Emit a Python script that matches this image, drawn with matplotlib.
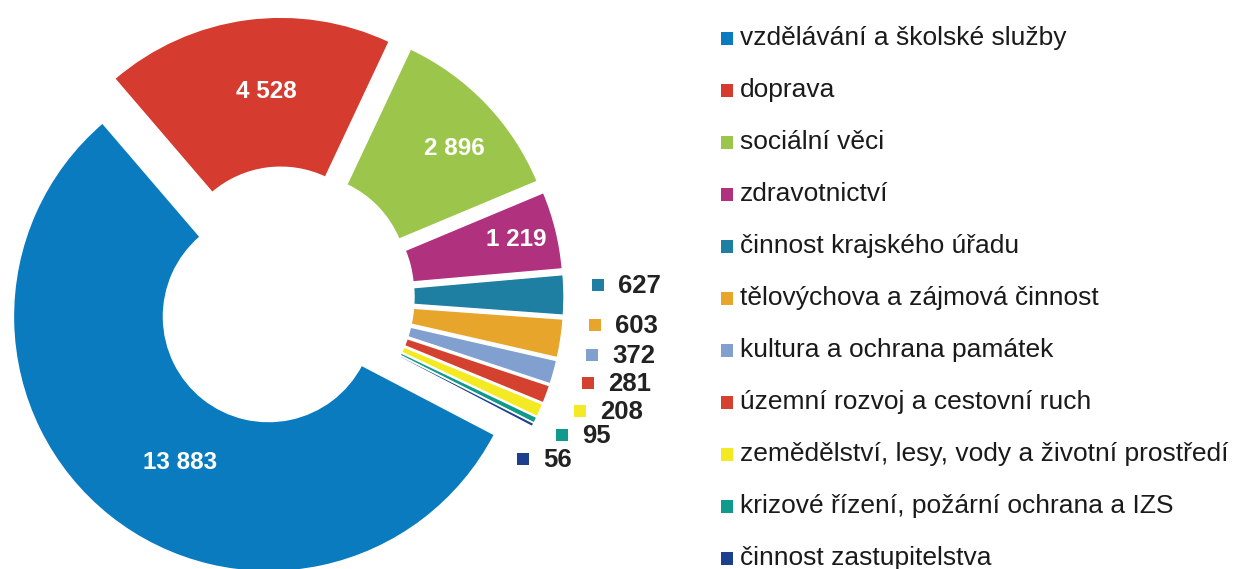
import numpy as np
import matplotlib.pyplot as plt
from matplotlib.patches import Rectangle

plt.rcParams['font.family'] = ['Liberation Sans', 'DejaVu Sans']

# data
categories = ['vzdělávání a školské služby', 'doprava', 'sociální věci',
              'zdravotnictví', 'činnost krajského úřadu',
              'tělovýchova a zájmová činnost', 'kultura a ochrana památek',
              'územní rozvoj a cestovní ruch',
              'zemědělství, lesy, vody a životní prostředí',
              'krizové řízení, požární ochrana a IZS', 'činnost zastupitelstva']
values = [13883, 4528, 2896, 1219, 627, 603, 372, 281, 208, 95, 56]
colors = ['#0b7bc0', '#d63b2f', '#9cc64b', '#b0327f', '#1f7fa2', '#e8a52b',
          '#819fcf', '#d4412f', '#f4ea24', '#0f9a8e', '#1c408e']

W, H = 1237, 569
fig = plt.figure(figsize=(W / 100, H / 100), dpi=100)
ax = fig.add_axes([0, 0, 1, 1])

# donut geometry in pixels
cx, cy = 284, H - 297
R = 255
ring = 150
wedges, _ = ax.pie(values, colors=colors, radius=R, center=(cx, cy),
                   startangle=-27.6, counterclock=False,
                   explode=[25] * len(values),
                   wedgeprops=dict(width=ring, edgecolor='white', linewidth=1.0))

def fmt(v):
    return f'{v:,}'.replace(',', ' ')

# labels inside the big slices: radius factor, angle shift (deg)
lab_r = [0.67, 0.71, 0.79, 0.84]
lab_da = [7.4, -3.1, -3.0, 0.0]
for i in range(len(lab_r)):
    w = wedges[i]
    a = np.deg2rad((w.theta1 + w.theta2) / 2 + lab_da[i])
    x = w.center[0] + lab_r[i] * R * np.cos(a)
    y = w.center[1] + lab_r[i] * R * np.sin(a)
    ax.text(x, y, fmt(values[i]), color='white', fontsize=17.5,
            fontweight='bold', ha='center', va='center')

# labels for the small slices (legend key + value)
small_xy = [(598, 285), (595, 325), (592, 355), (588, 383), (580, 411),
            (562, 435), (523, 459)]
for k, (sx, sy) in enumerate(small_xy):
    i = k + 4
    ax.add_patch(Rectangle((sx - 6, H - sy - 6), 12, 12, color=colors[i], lw=0))
    ax.text(sx + 20, H - sy - 1, fmt(values[i]), color='#222222', fontsize=18.5,
            fontweight='bold', ha='left', va='center')

# legend
for i, name in enumerate(categories):
    y = H - (38 + 52 * i)
    ax.add_patch(Rectangle((721, y - 6.5), 12, 13, color=colors[i], lw=0))
    ax.text(740, y, name, color='#1a1a1a', fontsize=19, ha='left', va='center')

ax.set_xlim(0, W)
ax.set_ylim(0, H)
ax.set_aspect('auto')
ax.axis('off')

fig.savefig('out.png', dpi=100, facecolor='white')
